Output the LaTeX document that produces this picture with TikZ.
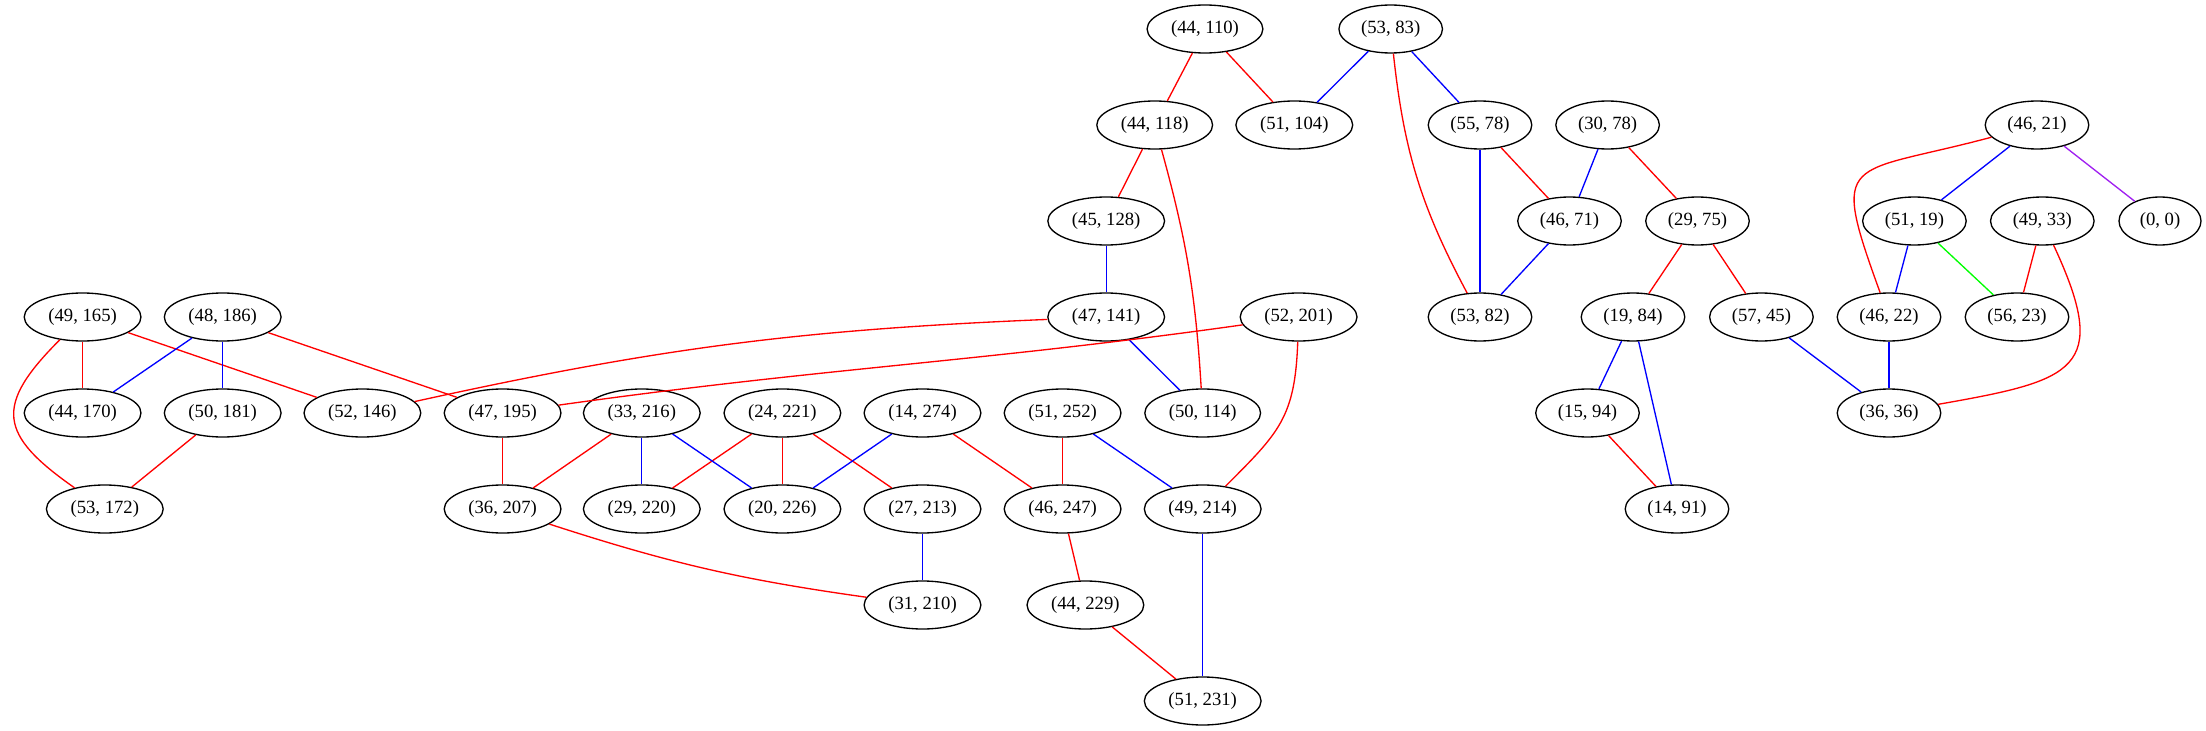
\documentclass[tikz,border=0pt]{standalone}
\usepackage{fontspec}
\setmainfont{Liberation Serif}
\usetikzlibrary{shapes.geometric}
\definecolor{gvgreen}{RGB}{0,255,0}
\definecolor{gvpurple}{RGB}{160,32,240}
\begin{document}
\begin{tikzpicture}[x=0.75pt,y=0.75pt,line width=1pt,
	vtx/.style={draw,ellipse,minimum width=61.5pt,minimum height=36pt,inner xsep=5.3pt,inner ysep=0pt,font=\fontsize{14}{16}\selectfont}]
\useasboundingbox (0,0) rectangle (2206,-731);
\foreach \a/\b/\x/\y in {44/110/1205/29, 53/83/1390.7/29,
	44/118/1154.7/125, 51/104/1294.3/125, 55/78/1480/125, 30/78/1607.6/125, 46/21/2037/125,
	45/128/1106.2/221, 46/71/1569.5/221, 29/75/1697.5/221, 51/19/1914.4/221, 49/33/2042.3/221, 0/0/2160/221,
	49/165/82.6/317, 48/186/222.7/317, 47/141/1106.2/317, 52/201/1298.6/317, 53/82/1480/317, 19/84/1633/317, 57/45/1761.4/317, 46/22/1889/317, 56/23/2017/317,
	44/170/82.6/413, 50/181/222.7/413, 52/146/362.4/413, 47/195/502.6/413, 33/216/641.8/413, 24/221/782.4/413, 14/274/922.5/413, 51/252/1062.6/413, 50/114/1202.7/413, 15/94/1587.5/413, 36/36/1889/413,
	53/172/104.8/509, 36/207/502.6/509, 29/220/641.8/509, 20/226/782.4/509, 27/213/922.5/509, 46/247/1062.6/509, 49/214/1202.7/509, 14/91/1677/509,
	31/210/922.5/605, 44/229/1085.4/605,
	51/231/1202.7/701}{
	\node[vtx] (v\a-\b) at (\x,-\y) {(\a, \b)};
}

\foreach \s/\t in {44-110/44-118, 44-110/51-104, 44-118/45-128, 55-78/46-71, 30-78/29-75, 29-75/19-84, 29-75/57-45, 15-94/14-91, 49-33/56-23, 49-165/44-170, 49-165/52-146, 48-186/47-195, 50-181/53-172, 47-195/36-207, 33-216/36-207, 24-221/29-220, 24-221/20-226, 24-221/27-213, 14-274/46-247, 51-252/46-247, 46-247/44-229, 44-229/51-231}{
	\draw[red] (v\s)--(v\t);
}
\foreach \s/\t in {53-83/51-104, 53-83/55-78, 45-128/47-141, 47-141/50-114, 55-78/53-82, 30-78/46-71, 46-71/53-82, 19-84/15-94, 19-84/14-91, 57-45/36-36, 46-21/51-19, 51-19/46-22, 46-22/36-36, 48-186/44-170, 48-186/50-181, 33-216/29-220, 33-216/20-226, 14-274/20-226, 51-252/49-214, 27-213/31-210, 49-214/51-231}{
	\draw[blue] (v\s)--(v\t);
}
\draw[gvgreen] (v51-19)--(v56-23);
\draw[gvpurple] (v46-21)--(v0-0);

\draw[red] (v53-83) to[bend right=11] (v53-82);
\draw[red] (v44-118) to[bend left=6] (v50-114);
\draw[red] (v47-141) to[bend right=5] (v52-146);
\draw[red] (v52-201) to[out=188,in=8] (v47-195);
\draw[red] (v52-201) to[out=268,in=45,looseness=1.2] (v49-214);
\draw[red] (v49-165) to[out=225,in=145,looseness=1.6] (v53-172);
\draw[red] (v46-21) to[out=195,in=110,looseness=2] (v46-22);
\draw[red] (v49-33) to[out=-65,in=10,looseness=1.8] (v36-36);
\draw[red] (v36-207) to[bend right=5] (v31-210);
\end{tikzpicture}
\end{document}
